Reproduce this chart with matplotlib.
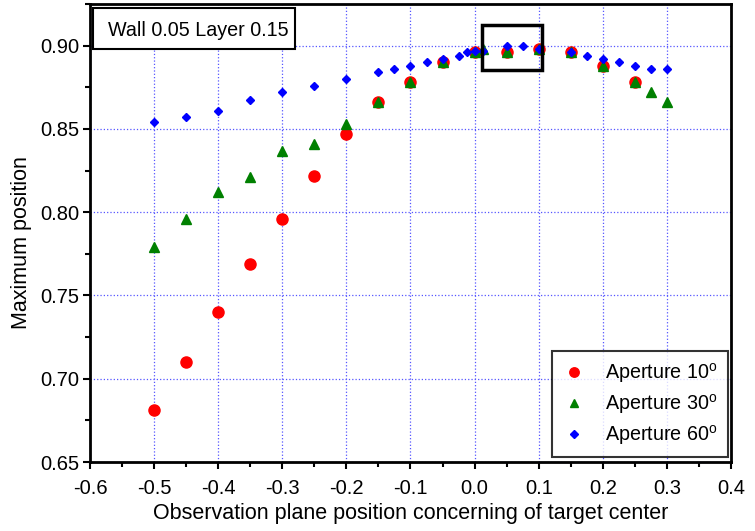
import matplotlib
matplotlib.use("Agg")
import matplotlib.pyplot as plt
from matplotlib.patches import Rectangle
from matplotlib.ticker import MultipleLocator, FormatStrFormatter

plt.rcParams['font.family'] = ['Liberation Sans', 'DejaVu Sans']
plt.rcParams['mathtext.fontset'] = 'custom'
plt.rcParams['mathtext.rm'] = 'Liberation Sans'

# Aperture 10 deg
x_10 = [-0.5, -0.45, -0.4, -0.35, -0.3, -0.25, -0.2, -0.15, -0.1, -0.05,
        0.0, 0.05, 0.1, 0.15, 0.2, 0.25]
y_10 = [0.681, 0.710, 0.740, 0.769, 0.796, 0.822, 0.847, 0.866, 0.878, 0.890,
        0.896, 0.896, 0.898, 0.896, 0.888, 0.878]

# Aperture 30 deg
x_30 = [-0.5, -0.45, -0.4, -0.35, -0.3, -0.25, -0.2, -0.15, -0.1, -0.05,
        0.0, 0.0125, 0.05, 0.1, 0.15, 0.2, 0.25, 0.275, 0.3]
y_30 = [0.779, 0.796, 0.812, 0.821, 0.837, 0.841, 0.853, 0.866, 0.878, 0.890,
        0.896, 0.898, 0.896, 0.898, 0.896, 0.888, 0.878, 0.872, 0.866]

# Aperture 60 deg
x_60 = [-0.5, -0.45, -0.4, -0.35, -0.3, -0.25, -0.2, -0.15, -0.125, -0.1,
        -0.075, -0.05, -0.025, -0.0125, 0.0, 0.0125, 0.05, 0.075, 0.1, 0.15,
        0.175, 0.2, 0.225, 0.25, 0.275, 0.3]
y_60 = [0.854, 0.857, 0.861, 0.8675, 0.872, 0.8755, 0.880, 0.884, 0.886, 0.888,
        0.890, 0.892, 0.894, 0.896, 0.897, 0.897, 0.900, 0.900, 0.898, 0.896,
        0.894, 0.892, 0.890, 0.888, 0.886, 0.886]

labels = ['Aperture 10$^{\\mathrm{o}}$', 'Aperture 30$^{\\mathrm{o}}$',
          'Aperture 60$^{\\mathrm{o}}$']

fig = plt.figure(figsize=(7.55, 5.31), dpi=100)
ax = fig.add_axes([0.1192, 0.1299, 0.849, 0.8626])

ax.plot(x_10, y_10, 'o', color='red', markersize=8, linestyle='none', label=labels[0], zorder=3)
ax.plot(x_30, y_30, '^', color='green', markersize=7.5, linestyle='none', label=labels[1], zorder=4)
ax.plot(x_60, y_60, 'D', color='blue', markersize=4.5, linestyle='none', label=labels[2], zorder=5)

ax.set_xlim(-0.6, 0.4)
ax.set_ylim(0.65, 0.925)
ax.xaxis.set_major_locator(MultipleLocator(0.1))
ax.xaxis.set_minor_locator(MultipleLocator(0.05))
ax.yaxis.set_major_locator(MultipleLocator(0.05))
ax.yaxis.set_minor_locator(MultipleLocator(0.025))
ax.xaxis.set_major_formatter(FormatStrFormatter('%.1f'))
ax.yaxis.set_major_formatter(FormatStrFormatter('%.2f'))

ax.tick_params(axis='both', which='major', direction='out', length=5, width=1.5,
               labelsize=14.5, top=False, right=False)
ax.tick_params(axis='both', which='minor', direction='out', length=3.5, width=1.5,
               top=False, right=False)
ax.tick_params(axis='y', which='major', pad=3)
ax.tick_params(axis='x', which='major', pad=7)
for s in ax.spines.values():
    s.set_linewidth(2)

ax.grid(True, which='major', color='#5555ff', linestyle=':', linewidth=0.9, zorder=0)
ax.set_axisbelow(True)

ax.set_xlabel('Observation plane position concerning of target center', fontsize=15.5, labelpad=4)
ax.set_ylabel('Maximum position', fontsize=15.5)
ax.yaxis.set_label_coords(-0.09, 0.48)

# title box in the top-left corner
ax.add_patch(Rectangle((0.005, 0.901), 0.315, 0.0896, transform=ax.transAxes,
                       facecolor='white', edgecolor='black', linewidth=1.5, zorder=6))
ax.text(0.1685, 0.942, 'Wall 0.05 Layer 0.15', transform=ax.transAxes,
        ha='center', va='center', fontsize=14.2, zorder=7)

# highlight around the peak
ax.add_patch(Rectangle((0.012, 0.8856), 0.0927, 0.0268, facecolor='none',
                       edgecolor='black', linewidth=2.5, zorder=6))

leg = ax.legend(loc='lower right', bbox_to_anchor=(0.995, 0.011), fontsize=14.2,
                frameon=True, fancybox=False, markerscale=0.85, borderpad=0.5,
                labelspacing=0.35, handlelength=1.2, handletextpad=1.0, borderaxespad=0)
leg.get_frame().set_edgecolor('black')
leg.get_frame().set_linewidth(1.5)

fig.savefig('out.png', dpi=100)
